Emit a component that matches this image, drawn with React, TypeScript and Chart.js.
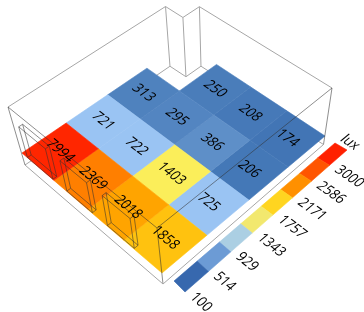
import React, { useEffect, useRef } from "react";
import { Chart, registerables } from "chart.js";

Chart.register(...registerables);

// ---- data -------------------------------------------------------------
const row0 = [7994, 2369, 2018, 1858];
const row1 = [721, 722, 1403, 725];
const row2 = [313, 295, 386, 206];
const row3 = [null, 250, 208, 174];
const luxRows = [row0, row1, row2, row3];

const legendTicks = [100, 514, 929, 1343, 1757, 2171, 2586, 3000];
const unitLabel = "lux";

// ---- styles -----------------------------------------------------------
const color0 = ["#ff2600", "#ff7f00", "#ffa400", "#ffc20f"];
const color1 = ["#9ac4f3", "#9ac4f3", "#fbee5a", "#9ac4f3"];
const color2 = ["#4f82be", "#5385c1", "#5e8fc8", "#4478b7"];
const color3 = [null, "#4a7dba", "#4679b8", "#4275b5"];
const cellColors = [color0, color1, color2, color3];
const legendColors = ["#3768ae", "#6c9bd5", "#abcfe3", "#f2e86e", "#ffd520", "#ff9000", "#ff5500", "#ff2000"];

const FONT = '"Open Sans", sans-serif';
const TEXT = "#000000";

// ---- camera: corner images of the room at three heights ----------------
type Pt = [number, number];
const planeWork: Pt[] = [[22, 153], [162, 273], [325, 136], [184, 43]];
const planeTop: Pt[] = [[8, 107], [157, 228], [332, 88], [182, -4]];
const planeBase: Pt[] = [[25, 165], [163, 284], [323.5, 144.5], [185, 56]];
const legendQuad: Pt[] = [[174, 281], [185, 292], [347, 150], [335, 143]];

function homography(q: Pt[], s: number, t: number): Pt {
  const [A, B, C, D] = q;
  const sx = A[0] - B[0] + C[0] - D[0], sy = A[1] - B[1] + C[1] - D[1];
  const d1x = B[0] - C[0], d1y = B[1] - C[1], d2x = D[0] - C[0], d2y = D[1] - C[1];
  const den = d1x * d2y - d1y * d2x;
  const g = (sx * d2y - sy * d2x) / den;
  const h = (d1x * sy - d1y * sx) / den;
  const w = 1 + g * s + h * t;
  return [
    ((B[0] * (1 + g) - A[0]) * s + (D[0] * (1 + h) - A[0]) * t + A[0]) / w,
    ((B[1] * (1 + g) - A[1]) * s + (D[1] * (1 + h) - A[1]) * t + A[1]) / w,
  ];
}

// f = 0 at the ceiling, f = 1 at the room's base
function wallPoint(s: number, t: number, f: number): Pt {
  const a = homography(planeTop, s, t), b = homography(planeBase, s, t);
  return [a[0] + (b[0] - a[0]) * f, a[1] + (b[1] - a[1]) * f];
}

// ---- room plan, in fractions of the room --------------------------------
const NOTCH_S = 0.128;
const NOTCH_T = 0.894;
const backPlan: Pt[] = [[0, 0], [0, NOTCH_T], [NOTCH_S, NOTCH_T], [NOTCH_S, 1], [1, 1]];
const frontPlan: Pt[] = [[1, 1], [1, 0], [0, 0]];
const windowSpans: Pt[] = [[0.05, 0.25], [0.355, 0.54], [0.645, 0.825]];
const WINDOW_TOP = 0.25;
const WINDOW_BOTTOM = 0.78;
const WINDOW_DEPTH = 0.02;

const xy = (p: Pt) => ({ x: p[0], y: p[1] });

function lineSet(points: Pt[], color: string, order: number, width = 1) {
  return {
    type: "scatter" as const, data: points.map(xy), showLine: true, pointRadius: 0,
    borderColor: color, borderWidth: width, fill: false, tension: 0, order, clip: false,
  };
}

function polySet(points: Pt[], color: string, order: number) {
  const closed = [...points, points[0]];
  return {
    type: "scatter" as const, data: closed.map(xy), showLine: true, pointRadius: 0,
    borderColor: color, borderWidth: 0.6, backgroundColor: color, fill: "shape", tension: 0, order, clip: false,
  };
}

const WIRE_BACK = "#a6a6a6";
const WIRE_FRONT = "rgba(50,50,50,0.55)";

function buildDatasets() {
  const sets: any[] = [];
  // back part of the room, under the working plane
  sets.push(lineSet(backPlan.map(([s, t]) => wallPoint(s, t, 0)), WIRE_BACK, 5));
  sets.push(lineSet(backPlan.map(([s, t]) => wallPoint(s, t, 1)), WIRE_BACK, 5));
  backPlan.slice(1, 4).forEach(([s, t]) => {
    sets.push(lineSet([wallPoint(s, t, 0), wallPoint(s, t, 1)], WIRE_BACK, 5));
  });
  // working plane
  const n = luxRows.length;
  luxRows.forEach((row, j) => row.forEach((v, i) => {
    if (v === null) return;
    const c = (a: number, b: number) => homography(planeWork, a / n, b / n);
    sets.push(polySet([c(i, j), c(i + 1, j), c(i + 1, j + 1), c(i, j + 1)], cellColors[j][i] as string, 3));
  }));
  // legend strip
  legendColors.forEach((col, k) => {
    const m = legendColors.length;
    const c = (a: number, b: number) => homography(legendQuad, b, a / m);
    sets.push(polySet([c(k, 0), c(k, 1), c(k + 1, 1), c(k + 1, 0)], col, 3));
  });
  // front part of the room, over the plane
  sets.push(lineSet(frontPlan.map(([s, t]) => wallPoint(s, t, 0)), WIRE_FRONT, 1));
  sets.push(lineSet(frontPlan.map(([s, t]) => wallPoint(s, t, 1)), WIRE_BACK, 1));
  frontPlan.forEach(([s, t]) => {
    sets.push(lineSet([wallPoint(s, t, 0), wallPoint(s, t, 1)], WIRE_FRONT, 1));
  });
  // windows in the front-left wall
  windowSpans.forEach(([a, b]) => {
    [0, WINDOW_DEPTH].forEach((t) => {
      sets.push(lineSet([
        wallPoint(a, t, WINDOW_TOP), wallPoint(b, t, WINDOW_TOP),
        wallPoint(b, t, WINDOW_BOTTOM), wallPoint(a, t, WINDOW_BOTTOM), wallPoint(a, t, WINDOW_TOP),
      ], WIRE_FRONT, 1));
    });
    ([[a, WINDOW_TOP], [b, WINDOW_TOP], [b, WINDOW_BOTTOM], [a, WINDOW_BOTTOM]] as Pt[]).forEach(([s, f]) => {
      sets.push(lineSet([wallPoint(s, 0, f), wallPoint(s, WINDOW_DEPTH, f)], WIRE_FRONT, 1));
    });
  });
  return sets;
}

const TEXT_SIZE = 13;
const TEXT_STRETCH = 1.15;

// text lying in the working plane: its baseline and stems follow the plane's local axes
function drawPlaneText(chart: any, text: string, at: Pt, cs: number, ct: number, align: CanvasTextAlign) {
  const { x, y } = chart.scales;
  const e = 0.01;
  const p0 = homography(planeWork, cs, ct);
  const pu = homography(planeWork, cs + e, ct);
  const pv = homography(planeWork, cs, ct + e);
  const ux = pu[0] - p0[0], uy = pu[1] - p0[1];
  const vx = pv[0] - p0[0], vy = pv[1] - p0[1];
  const lu = Math.hypot(ux, uy), lv = Math.hypot(vx, vy);
  const ctx = chart.ctx;
  ctx.save();
  ctx.transform(ux / lu, uy / lu, -vx / lv, -vy / lv, x.getPixelForValue(at[0]), y.getPixelForValue(at[1]));
  ctx.scale(1, TEXT_STRETCH);
  ctx.font = `${TEXT_SIZE}px ${FONT}`;
  ctx.fillStyle = TEXT;
  ctx.textAlign = align;
  ctx.textBaseline = "middle";
  ctx.fillText(text, 0, 0);
  ctx.restore();
}

const textPlugin = {
  id: "planeText",
  afterDatasetsDraw(chart: any) {
    const n = luxRows.length;
    luxRows.forEach((row, j) => row.forEach((v, i) => {
      if (v === null) return;
      const s = (i + 0.5) / n, t = (j + 0.5) / n;
      drawPlaneText(chart, String(v), homography(planeWork, s, t), s, t, "center");
    }));
    const m = legendTicks.length;
    legendTicks.forEach((v, k) => {
      const p = homography(legendQuad, 1, k / m);
      drawPlaneText(chart, String(v), [p[0] + 7.5, p[1] + 3], 1, k / m, "left");
    });
    const q = homography(legendQuad, 0.5, 1);
    drawPlaneText(chart, unitLabel, [q[0] + 9, q[1] - 4], 1, 1, "center");
  },
};

export default function App() {
  const ref = useRef<HTMLCanvasElement | null>(null);
  useEffect(() => {
    const chart = new Chart(ref.current as HTMLCanvasElement, {
      type: "scatter",
      data: { datasets: buildDatasets() },
      options: {
        responsive: false,
        animation: false,
        layout: { padding: 0 },
        plugins: { legend: { display: false }, tooltip: { enabled: false }, title: { display: false } },
        scales: {
          x: { type: "linear", min: 0, max: 364, display: false },
          y: { type: "linear", min: 0, max: 312, reverse: true, display: false },
        },
      },
      plugins: [textPlugin],
    } as any);
    return () => chart.destroy();
  }, []);
  return (
    <div style={{ position: "fixed", left: 0, top: 0, width: 364, height: 312, background: "#fff" }}>
      <canvas ref={ref} width={364} height={312} style={{ display: "block", filter: "blur(0.35px)" }} />
    </div>
  );
}
